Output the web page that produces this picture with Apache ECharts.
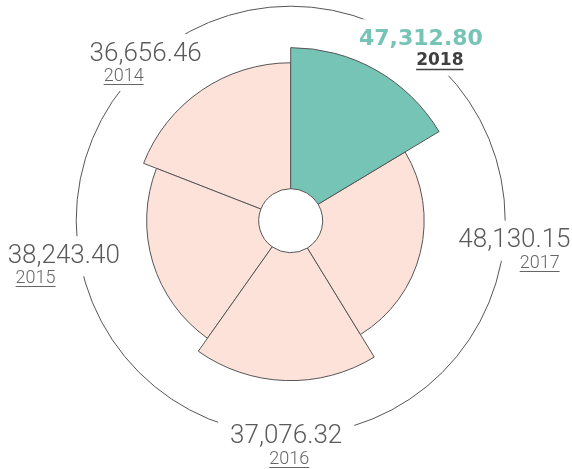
<!DOCTYPE html>
<html>
<head>
<meta charset="utf-8">
<script src="https://cdn.jsdelivr.net/npm/echarts@6/dist/echarts.min.js"></script>
<style>
  html, body { margin: 0; padding: 0; background: #fff; }
  #chart { width: 572px; height: 469px; }
</style>
</head>
<body>
<div id="chart"></div>
<script>
var years = ['2014', '2015', '2016', '2017', '2018'];
var totals = [36656.46, 38243.40, 37076.32, 48130.15, 47312.80];
var spans = [68.7, 76, 66.8, 89.5, 59];       // angle of each slice, degrees
var sizes = [69.0, 61.4, 70.1, 55.6, 77.3];   // slice length, 0-100 of the ring
var current = '2018';

var TEAL = '#76c4b5';
var PINK = '#fde2da';
var LINE = '#555';
var FONT = 'Roboto, "Helvetica Neue", Arial, sans-serif';
var BOLD = '"DejaVu Sans", Arial, sans-serif';

// where the two texts sit, relative to the ring point in the middle of the slice
var labelPos = {
  '2014': { v: [-24, 10.5], y: [-46, 32.5] },
  '2015': { v: [-21.5, -26], y: [-49.7, -4] },
  '2016': { v: [2.6, 1.6], y: [5.6, 24] },
  '2017': { v: [15.4, -31], y: [40.6, -8.4] },
  '2018': { v: [24.6, 5.3], y: [43.5, 26.7] }
};

var sliceData = [];
var labelData = [];
var acc = 0;
for (var i = 0; i < years.length; i++) {
  sliceData.push([sizes[i], acc, acc + spans[i], i]);
  labelData.push([100, acc + spans[i] / 2, i]);
  acc += spans[i];
}

var ctx = document.createElement('canvas').getContext('2d');
function textWidth(text, font) {
  ctx.font = font;
  return ctx.measureText(text).width;
}

function dist(p, cs) {
  return Math.sqrt((p[0] - cs.cx) * (p[0] - cs.cx) + (p[1] - cs.cy) * (p[1] - cs.cy));
}

function renderRing(params, api) {
  var cs = params.coordSys;
  var r = dist(api.coord([100, 0]), cs);
  return {
    type: 'circle',
    shape: { cx: cs.cx, cy: cs.cy, r: r },
    style: { fill: 'none', stroke: LINE, lineWidth: 1 }
  };
}

function renderSlice(params, api) {
  var cs = params.coordSys;
  var size = api.value(0), a0 = api.value(1), a1 = api.value(2), idx = api.value(3);
  var pA = api.coord([size, a0]);
  var pB = api.coord([size, a1]);
  var r = dist(pA, cs);
  var r0 = dist(api.coord([0, a0]), cs);
  var s = Math.atan2(pA[1] - cs.cy, pA[0] - cs.cx);
  var e = Math.atan2(pB[1] - cs.cy, pB[0] - cs.cx);
  while (e >= s) e -= Math.PI * 2;   // angles run counter-clockwise
  return {
    type: 'sector',
    shape: { cx: cs.cx, cy: cs.cy, r0: r0, r: r, startAngle: e, endAngle: s, clockwise: true },
    style: { fill: years[idx] === current ? TEAL : PINK, stroke: LINE, lineWidth: 1 }
  };
}

function renderLabel(params, api) {
  var idx = api.value(2);
  var p = api.coord([api.value(0), api.value(1)]);
  var year = years[idx];
  var on = year === current;
  var pos = labelPos[year];
  var vx = p[0] + pos.v[0], vy = p[1] + pos.v[1];
  var yx = p[0] + pos.y[0], yy = p[1] + pos.y[1];
  var vFont = on ? 'bold 22px ' + BOLD : '300 26px ' + FONT;
  var yFont = on ? 'bold 17px ' + BOLD : '300 18px ' + FONT;
  var vText = echarts.format.addCommas(totals[idx].toFixed(2));
  var vColor = on ? TEAL : '#5a5a5a';
  var yColor = on ? '#404040' : '#666';
  var w = textWidth(year, yFont);
  var ul = Math.round(yy + 8) + 0.5;

  function txt(x, y, text, font, fill, lh, bg) {
    var style = { text: text, font: font, fill: fill, align: 'center', verticalAlign: 'middle', lineHeight: lh };
    if (bg) {
      style.backgroundColor = '#fff';
      style.padding = [5, 12];
    }
    return { type: 'text', x: x, y: y, style: style };
  }

  return {
    type: 'group',
    children: [
      txt(vx, vy, vText, vFont, 'rgba(0,0,0,0)', 30, true),
      txt(yx, yy, year, yFont, 'rgba(0,0,0,0)', 20, true),
      txt(vx, vy, vText, vFont, vColor, 30, false),
      txt(yx, yy, year, yFont, yColor, 20, false),
      {
        type: 'line',
        shape: { x1: yx - w / 2, y1: ul, x2: yx + w / 2, y2: ul },
        style: { stroke: yColor, lineWidth: on ? 1.5 : 1 }
      }
    ]
  };
}

var chart = echarts.init(document.getElementById('chart'));
chart.setOption({
  animation: false,
  polar: { center: [290.7, 220.7], radius: [32, 214.5] },
  angleAxis: { type: 'value', min: 0, max: 360, startAngle: 90, clockwise: false, show: false },
  radiusAxis: { type: 'value', min: 0, max: 100, show: false },
  series: [
    { type: 'custom', name: 'ring', coordinateSystem: 'polar', clip: false, silent: true,
      data: [[100, 0]], renderItem: renderRing },
    { type: 'custom', name: 'labels', coordinateSystem: 'polar', clip: false, silent: true,
      data: labelData, renderItem: renderLabel },
    { type: 'custom', name: 'slices', coordinateSystem: 'polar', clip: false,
      data: sliceData, renderItem: renderSlice }
  ]
});
</script>
</body>
</html>
